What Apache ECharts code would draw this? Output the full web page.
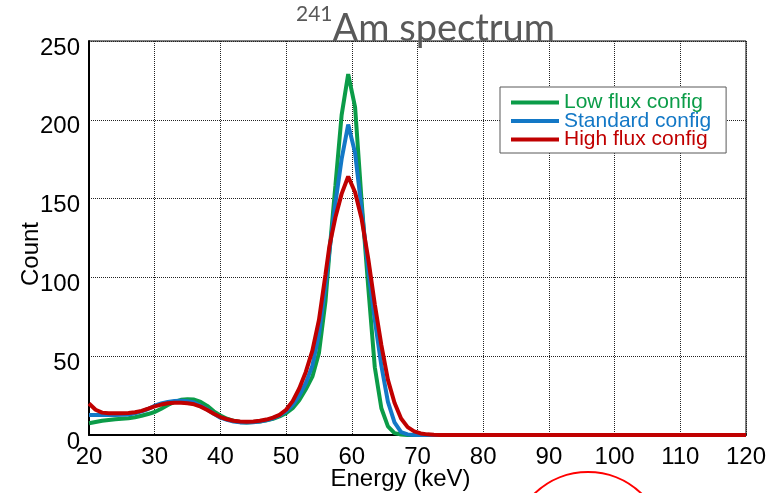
<!DOCTYPE html>
<html>
<head>
<meta charset="utf-8">
<script src="https://cdn.jsdelivr.net/npm/echarts@6/dist/echarts.min.js"></script>
<style>
  html, body { margin: 0; padding: 0; background: #fff; }
  #chart { width: 779px; height: 493px; }
</style>
</head>
<body>
<div id="chart"></div>
<script>
// 能量轴 (keV) 与三组计数
const energies = [20, 21, 22, 23, 24, 25, 26, 27, 28, 29, 30, 31, 32, 33, 34, 35, 36, 37, 38, 39, 40,
  41, 42, 43, 44, 45, 46, 47, 48, 49, 50, 51, 52, 53, 54, 55, 56, 56.6, 57.5, 58.45, 59.45, 60.5,
  61.5, 62.5, 63.5, 64.5, 65.5, 66.5, 67.5, 68.5, 69.5, 70.5, 71.5, 72.5, 73.5, 74.5, 120]
const lowFlux = [7.4, 8.2, 9, 9.5, 10, 10.3, 10.6, 11.3, 12.2, 13.3, 14.6, 16.7, 19, 21, 22.3, 22.7, 22.5, 21, 18.5, 15, 12.4,
  10.3, 9, 8.3, 8, 8.2, 8.6, 9.3, 10.3, 11.8, 13.8, 17, 22, 29, 37, 52, 85, 116, 158, 203, 229, 208,
  148, 94, 43, 17, 5.5, 1.2, 0.3, 0, 0, 0, 0, 0, 0, 0, 0]
const standard = [12.7, 12.7, 12.7, 12.7, 12.7, 12.8, 13, 13.8, 15, 16.5, 18.6, 20, 21, 21.6, 21.8, 21.4, 20.6, 18.6, 16.2, 13.5, 11,
  9.6, 8.6, 8, 7.9, 8.1, 8.5, 9.3, 10.6, 12.4, 15, 19, 25, 33, 44, 64, 95, 117, 147, 175, 197, 179,
  143, 105, 73, 44, 21, 8, 1.8, 0.4, 0, 0, 0, 0, 0, 0, 0]
const highFlux = [20, 16, 14.2, 13.8, 13.8, 13.8, 13.9, 14.4, 15.3, 16.7, 18.2, 19.3, 20.1, 20.5, 20.5, 20.2, 19.5, 18, 15.9, 13.5, 11.4,
  10, 9, 8.5, 8.4, 8.6, 9, 9.8, 11, 12.8, 16, 21.5, 29.5, 40, 53.5, 73, 102, 120, 138, 153, 164, 154,
  137, 112, 83, 57, 35, 20.5, 10.5, 5, 2.3, 1, 0.4, 0.1, 0, 0, 0]

const seriesNames = ['Low flux config', 'Standard config', 'High flux config']
const colors = ['#0b9c48', '#1378c6', '#c00000']
const font = 'Liberation Sans, Arial, sans-serif'

const chart = echarts.init(document.getElementById('chart'))

const seriesData = [lowFlux, standard, highFlux].map((vals, i) => ({
  name: seriesNames[i],
  type: 'line',
  symbol: 'none',
  data: energies.map((e, j) => [e, vals[j]]),
  lineStyle: { width: 4, color: colors[i] },
  itemStyle: { color: colors[i] },
  z: 3 + i
}))

const option = {
  animation: false,
  backgroundColor: '#fff',
  title: {
    text: '{sup|241}{main|Am spectrum}',
    left: 296,
    top: 4,
    padding: 0,
    textStyle: {
      fontWeight: 'normal',
      rich: {
        sup: { fontSize: 21, fontWeight: 'normal', fontFamily: 'Lato, Open Sans, sans-serif', color: '#595959', lineHeight: 20, verticalAlign: 'top' },
        main: { fontSize: 38, fontWeight: 'normal', fontFamily: 'Lato, Open Sans, sans-serif', color: '#595959', lineHeight: 50 }
      }
    }
  },
  grid: {
    left: 89,
    right: 33,
    top: 41,
    bottom: 58,
    outerBoundsMode: 'none',
    containLabel: false,
    show: true,
    borderColor: '#000',
    borderWidth: 1
  },
  legend: {
    orient: 'vertical',
    left: 500,
    top: 87,
    data: seriesNames.map((n, i) => ({ name: n, textStyle: { color: colors[i] } })),
    icon: 'rect',
    itemWidth: 48,
    itemHeight: 4,
    itemGap: -2.5,
    padding: [5, 15, 3, 11],
    borderColor: '#595959',
    borderWidth: 1,
    backgroundColor: '#fff',
    textStyle: { fontSize: 21, fontFamily: font, lineHeight: 18 }
  },
  xAxis: {
    type: 'value',
    min: 20,
    max: 120,
    interval: 10,
    name: 'Energy (keV)',
    nameLocation: 'middle',
    nameGap: 32,
    nameMoveOverlap: false,
    nameTextStyle: { fontSize: 24, fontFamily: font, color: '#000', padding: [0, 34, 0, 0] },
    axisLine: { show: true, lineStyle: { color: '#000', width: 2 } },
    axisTick: { show: false },
    axisLabel: { fontSize: 24, fontFamily: font, color: '#000', margin: 10 },
    splitLine: { show: true, lineStyle: { color: '#222', type: 'dotted', width: 1 } }
  },
  yAxis: {
    type: 'value',
    min: 0,
    max: 250,
    interval: 50,
    name: 'Count',
    nameLocation: 'middle',
    nameGap: 46,
    nameMoveOverlap: false,
    nameTextStyle: { fontSize: 24, fontFamily: font, color: '#000', padding: [0, 32, 0, 0] },
    axisLine: { show: true, lineStyle: { color: '#000', width: 2 } },
    axisTick: { show: false },
    axisLabel: { fontSize: 24, fontFamily: font, color: '#000', margin: 9, verticalAlign: 'top', lineHeight: 14 },
    splitLine: { show: true, lineStyle: { color: '#222', type: 'dotted', width: 1 } }
  },
  graphic: [
    {
      type: 'circle',
      silent: true,
      shape: { cx: 588, cy: 549, r: 77 },
      style: { fill: 'none', stroke: '#ff0000', lineWidth: 2 }
    }
  ],
  series: seriesData
}

chart.setOption(option)
</script>
</body>
</html>
